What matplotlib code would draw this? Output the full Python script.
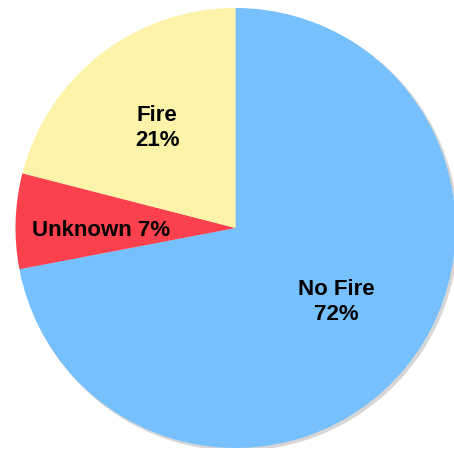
import matplotlib.pyplot as plt
from matplotlib.patches import Circle

labels = ['No Fire', 'Unknown', 'Fire']
shares = [72, 7, 21]
colors = ['#75c0fd', '#fc414e', '#fdf3a8']

W, H = 454, 452
cx, cy, r = 235.5, 229, 220

fig = plt.figure(figsize=(W / 100, H / 100), dpi=100)
ax = fig.add_axes([(cx - r) / W, (H - cy - r) / H, 2 * r / W, 2 * r / H])
ax.axis('off')

# soft grey drop shadow under the disc
ax.add_patch(Circle((0.01, -0.01), 1.0, color='#d6d6d6', zorder=0))

wedges, _ = ax.pie(shares, colors=colors, startangle=90, counterclock=False,
                   radius=1.0, wedgeprops=dict(linewidth=0), center=(0, 0))
for w in wedges:
    w.set_zorder(1)
ax.set_xlim(-1, 1)
ax.set_ylim(-1, 1)
ax.set_aspect('auto')

font = dict(family=['Liberation Sans', 'DejaVu Sans'], fontsize=16,
            fontweight='bold', color='black', ha='center', va='center', zorder=3)

def to_ax(px, py):
    return (px - cx) / r, (cy - py) / r

ax.text(*to_ax(336, 302), f'{labels[0]}\n{shares[0]}%', linespacing=1.3, **font)
ax.text(*to_ax(101, 230), f'{labels[1]} {shares[1]}%', **font)
ax.text(*to_ax(157, 128), f'{labels[2]}\n{shares[2]}%', linespacing=1.3, **font)

fig.savefig('out.png', dpi=100)
